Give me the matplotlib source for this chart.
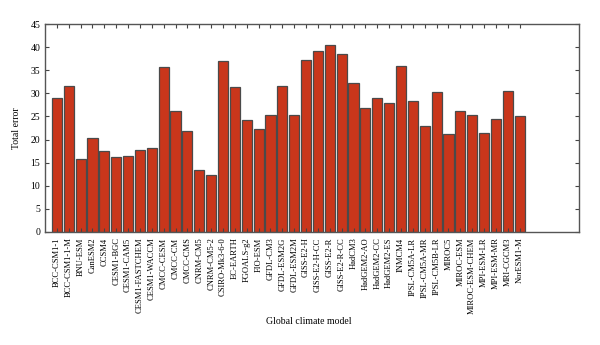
import matplotlib
matplotlib.use("Agg")
import matplotlib.pyplot as plt
import numpy as np

models = [
    "BCC-CSM1-1", "BCC-CSM1-1-M", "BNU-ESM", "CanESM2", "CCSM4", "CESM1-BGC",
    "CESM1-CAM5", "CESM1-FASTCHEM", "CESM1-WACCM", "CMCC-CESM", "CMCC-CM",
    "CMCC-CMS", "CNRM-CM5", "CNRM-CM5-2", "CSIRO-Mk3-6-0", "EC-EARTH",
    "FGOALS-g2", "FIO-ESM", "GFDL-CM3", "GFDL-ESM2G", "GFDL-ESM2M", "GISS-E2-H",
    "GISS-E2-H-CC", "GISS-E2-R", "GISS-E2-R-CC", "HadCM3", "HadGEM2-AO",
    "HadGEM2-CC", "HadGEM2-ES", "INMCM4", "IPSL-CM5A-LR", "IPSL-CM5A-MR",
    "IPSL-CM5B-LR", "MIROC5", "MIROC-ESM", "MIROC-ESM-CHEM", "MPI-ESM-LR",
    "MPI-ESM-MR", "MRI-CGCM3", "NorESM1-M",
]
total_error = [
    29.0, 31.5, 15.8, 20.3, 17.6, 16.2, 16.4, 17.8, 18.2, 35.7,
    26.1, 21.9, 13.3, 12.4, 37.1, 31.4, 24.3, 22.2, 25.4, 31.7,
    25.4, 37.3, 39.1, 40.4, 38.5, 32.3, 26.8, 29.0, 27.9, 36.0,
    28.3, 22.9, 30.2, 21.1, 26.1, 25.4, 21.5, 24.5, 30.6, 25.2,
]
y_ticks = [0, 5, 10, 15, 20, 25, 30, 35, 40, 45]

plt.rcParams["font.family"] = ["Liberation Serif", "DejaVu Serif"]

fig = plt.figure(figsize=(6.0, 3.45), dpi=100)
ax = fig.add_axes([0.075, 0.328, 0.890, 0.602])

x = np.arange(1, len(models) + 1)
ax.bar(x, total_error, width=0.85, color="#C9361B",
       edgecolor="#4a4a4a", linewidth=0.9)

ax.set_xlim(0, 45)
ax.set_ylim(0, 45)
ax.set_yticks(y_ticks)
ax.set_xticks(x)
ax.set_xticklabels(models, rotation=90, fontsize=6.1)
ax.tick_params(axis="y", labelsize=7.0, direction="in", length=3,
               right=True, width=0.8, color="#444444")
ax.tick_params(axis="x", direction="in", length=3, top=True,
               width=0.8, color="#444444", pad=4)
for s in ax.spines.values():
    s.set_color("#555555")
    s.set_linewidth(1.0)

ax.set_ylabel("Total error", fontsize=7.0)
ax.yaxis.set_label_coords(-0.045, 0.5)
fig.text(0.515, 1 - 321 / 345, "Global climate model", fontsize=7.0,
         ha="center", va="center")

fig.savefig("out.png", dpi=100)
